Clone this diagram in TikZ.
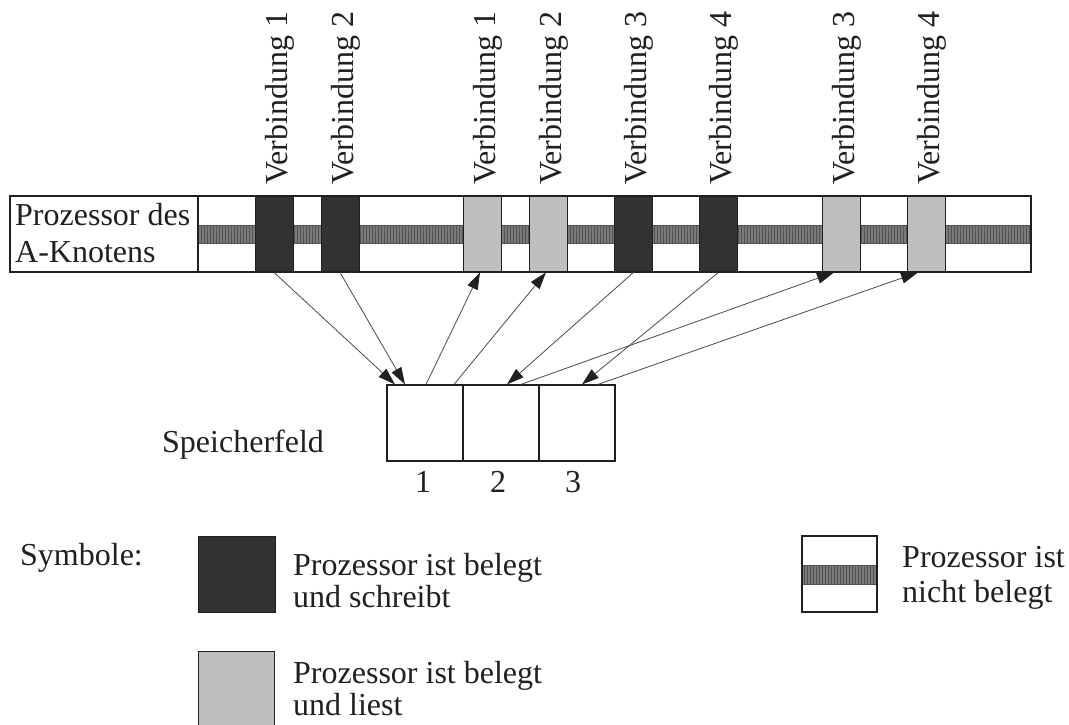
\documentclass[tikz,border=0pt]{standalone}
\usepackage{fontspec}
\setmainfont{Liberation Serif}
\usetikzlibrary{arrows.meta,patterns}
\definecolor{ink}{RGB}{35,31,32}
\definecolor{busy}{RGB}{51,49,51}
\definecolor{readc}{RGB}{189,190,192}
\definecolor{idle}{RGB}{122,122,125}
\definecolor{idleline}{RGB}{82,82,86}
\definecolor{wire}{RGB}{75,75,75}
\begin{document}
\begin{tikzpicture}[x=1pt,y=-1pt,
  every node/.style={font=\fontsize{32}{37}\selectfont, text=ink},
  frame/.style={draw=ink,line width=1.2pt},
  idlebar/.style={fill=idle,postaction={pattern=vertical lines,pattern color=idleline},draw=idleline,line width=0.6pt},
  writeblk/.style={draw=ink,line width=0.8pt,fill=busy,minimum width=38pt,minimum height=76pt,inner sep=0pt},
  readblk/.style={writeblk,fill=readc},
  cell/.style={draw=ink,line width=1.2pt,minimum width=76pt,minimum height=76pt,inner sep=0pt},
  link/.style={draw=wire,line width=0.8pt,-{Triangle[length=17pt,width=11pt,color=ink]}},
  vlabel/.style={rotate=90,anchor=base west,inner sep=0pt},
  txt/.style={inner sep=0pt},
]
\clip (0,0) rectangle (1069,724);
\fill[white] (0,0) rectangle (1069,724);

% processor time line
\draw[idlebar] (198,225) rectangle (1031,243);
\node[writeblk] (w1) at (274,234) {};
\node[writeblk] (w2) at (340,234) {};
\node[readblk]  (r1) at (482,234) {};
\node[readblk]  (r2) at (548,234) {};
\node[writeblk] (w3) at (633.5,234) {};
\node[writeblk] (w4) at (718.5,234) {};
\node[readblk]  (r3) at (841,234) {};
\node[readblk]  (r4) at (926,234) {};
\draw[frame] (10,196) rectangle (1031,272);
\draw[frame] (198,196) -- (198,272);
\node[txt,anchor=north west,align=left] (cpu) at (15,203) {Prozessor des\\A-Knotens};

% connection labels
\node[vlabel] (t1) at (287,185) {Verbindung 1};
\node[vlabel] (t2) at (353,185) {Verbindung 2};
\node[vlabel] (t3) at (495,185) {Verbindung 1};
\node[vlabel] (t4) at (561,185) {Verbindung 2};
\node[vlabel] (t5) at (646.5,185) {Verbindung 3};
\node[vlabel] (t6) at (731.5,185) {Verbindung 4};
\node[vlabel] (t7) at (854,185) {Verbindung 3};
\node[vlabel] (t8) at (939,185) {Verbindung 4};

% memory field
\node[cell] (c1) at (425,423) {};
\node[cell] (c2) at (501,423) {};
\node[cell] (c3) at (577,423) {};
\node[txt,anchor=base west] (mem) at (162,452) {Speicherfeld};
\node[txt,anchor=base] (n1) at (423,492) {1};
\node[txt,anchor=base] (n2) at (498,492) {2};
\node[txt,anchor=base] (n3) at (573,492) {3};

% data transfers
\draw[link] (w1.south) -- ([xshift=-30pt]c1.north);
\draw[link] (w2.south) -- ([xshift=-20pt]c1.north);
\draw[link] ([xshift=1pt]c1.north) -- ([xshift=-2pt]r1.south);
\draw[link] ([xshift=29pt]c1.north) -- ([xshift=-2pt]r2.south);
\draw[link] (w3.south) -- ([xshift=6pt]c2.north);
\draw[link] (w4.south) -- ([xshift=5pt]c3.north);
\draw[link] ([xshift=20pt]c2.north) -- ([xshift=-7pt]r3.south);
\draw[link] ([xshift=21pt]c3.north) -- ([xshift=-8pt]r4.south);

% legend
\node[txt,anchor=base west] (sym) at (20,565) {Symbole:};
\node[writeblk,minimum width=77pt,minimum height=76pt,anchor=north west] (kw) at (198,536) {};
\node[txt,anchor=north west,align=left,font=\fontsize{32}{32}\selectfont] (kwt) at (293,553) {Prozessor ist belegt\\und schreibt};
\node[readblk,minimum width=76pt,minimum height=76pt,anchor=north west] (kr) at (198,651) {};
\node[txt,anchor=north west,align=left,font=\fontsize{32}{32}\selectfont] (krt) at (293,661) {Prozessor ist belegt\\und liest};
\draw[idlebar] (802,565) rectangle (877,584);
\draw[frame] (802,536) rectangle (877,612);
\node[txt,anchor=north west,align=left,font=\fontsize{32}{35}\selectfont] (kit) at (902,546) {Prozessor ist\\nicht belegt};
\end{tikzpicture}
\end{document}
